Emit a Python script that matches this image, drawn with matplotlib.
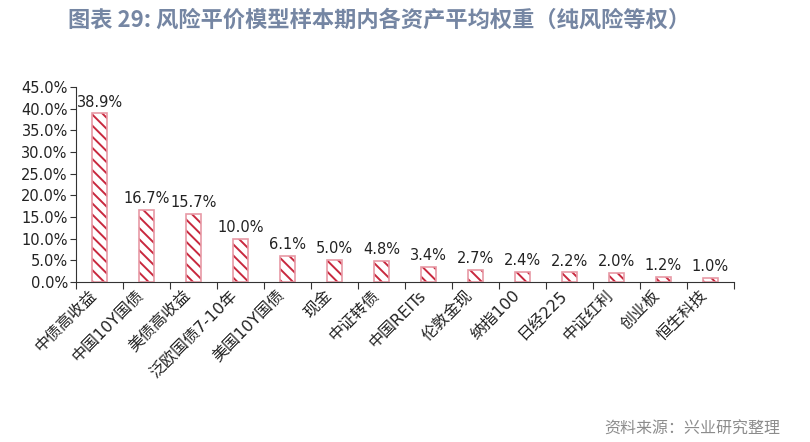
import numpy as np
import matplotlib.pyplot as plt

plt.rcParams['font.family'] = ['DejaVu Sans', 'Noto Sans CJK SC']
plt.rcParams['hatch.linewidth'] = 1.4

cats = ['中债高收益', '中国10Y国债', '美债高收益', '泛欧国债7-10年', '美国10Y国债', '现金',
        '中证转债', '中国REITs', '伦敦金现', '纳指100', '日经225', '中证红利', '创业板', '恒生科技']
vals = [38.9, 16.7, 15.7, 10.0, 6.1, 5.0, 4.8, 3.4, 2.7, 2.4, 2.2, 2.0, 1.2, 1.0]
yticks = [0, 5, 10, 15, 20, 25, 30, 35, 40, 45]

fig = plt.figure(figsize=(8.1, 4.42), dpi=100)
ax = fig.add_axes([0.094, 0.362, 0.812, 0.441])

x = np.arange(len(cats))
ax.bar(x, vals, width=0.33, color='white', edgecolor='#c8283e', hatch='\\\\\\', linewidth=0)
ax.bar(x, vals, width=0.33, fill=False, edgecolor='#e89aa6', linewidth=1.2)
for xi, v in zip(x, vals):
    ax.text(xi, v + 0.9, '%.1f%%' % v, ha='center', va='bottom', fontsize=10.5, color='#222222')

ax.set_xlim(-0.5, len(cats) - 0.5)
ax.set_ylim(0, 45)
ax.set_yticks(yticks)
ax.set_yticklabels(['%.1f%%' % t for t in yticks], fontsize=10.5, color='#222222')
ax.set_xticks(np.arange(len(cats) + 1) - 0.5, minor=False)
ax.set_xticklabels([])
ax.set_xticks(x, minor=True)
ax.set_xticklabels(cats, minor=True, rotation=45, ha='right', va='top', fontsize=11.5,
                   family=['DejaVu Sans', 'Noto Sans CJK SC'], color='#222222')
ax.tick_params(axis='x', which='minor', length=0, pad=4)
ax.tick_params(axis='x', which='major', direction='out', length=5, color='#333333')
ax.tick_params(axis='y', direction='out', length=4, color='#333333', pad=2)
for s in ['top', 'right']:
    ax.spines[s].set_visible(False)
ax.spines['left'].set_color('#333333')
ax.spines['bottom'].set_color('#333333')

fig.text(0.084, 0.955, '图表 29: 风险平价模型样本期内各资产平均权重（纯风险等权）', fontsize=16,
         fontweight='bold', color='#7586a3', ha='left', va='center', family=['Noto Sans CJK SC'])
fig.text(0.963, 0.03, '资料来源：兴业研究整理', fontsize=11.5, color='#8c8c8c',
         ha='right', va='center', family=['Noto Sans CJK SC'])

fig.savefig('out.png', dpi=100)
